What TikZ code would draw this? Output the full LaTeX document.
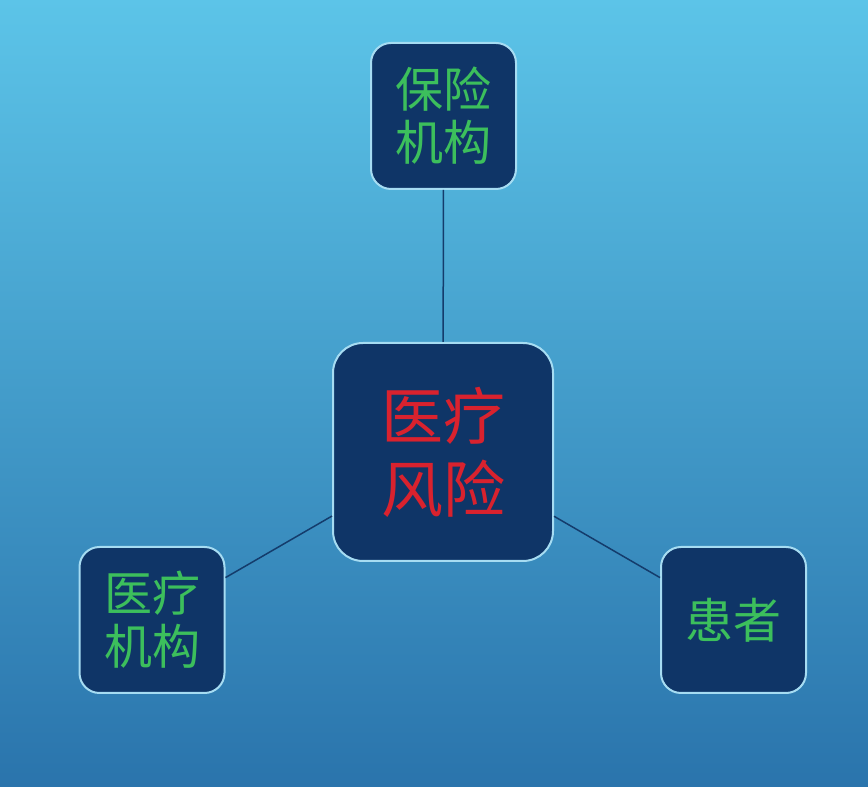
\documentclass[tikz,border=0pt]{standalone}
\usepackage{fontspec}
\newfontfamily\cjk{Noto Sans CJK SC}
\usepackage{tikz}

\definecolor{skytop}{HTML}{5CC4E8}
\definecolor{skybot}{HTML}{2A74AC}
\definecolor{boxfill}{HTML}{0F3567}
\definecolor{boxline}{HTML}{A6DCF2}
\definecolor{linkcol}{HTML}{143C6C}
\definecolor{txtgreen}{HTML}{3CBF5C}
\definecolor{txtred}{HTML}{D9222E}

\tikzset{
	party/.style={draw=boxline, fill=boxfill, line width=2pt, rounded corners=20pt,
		minimum width=145pt, minimum height=146pt, inner sep=0pt, align=center,
		text=txtgreen, font=\cjk\fontsize{48}{53}\selectfont},
	riskbox/.style={party, rounded corners=30pt, minimum width=220pt, minimum height=218pt,
		text=txtred, font=\cjk\fontsize{62}{73}\selectfont},
	link/.style={draw=linkcol, line width=1.5pt}
}

\begin{document}
\begin{tikzpicture}[x=1pt, y=1pt]
	
	% background
	\shade[top color=skytop, bottom color=skybot] (0,0) rectangle (868,787);
	\useasboundingbox (0,0) rectangle (868,787);
	
	\node[riskbox] (risk) at (443, 335) {医疗\\风险}; % centre
	\node[party] (insurer) at (443.5, 671) {保险\\机构}; % top
	\node[party] (hospital) at (152, 167) {医疗\\机构}; % left
	\node[party] (patient) at (733.5, 167) {患者}; % right
	
	\draw[link] (risk) -- (insurer);
	\draw[link] (risk) -- (hospital);
	\draw[link] (risk) -- (patient);

\end{tikzpicture}
\end{document}
